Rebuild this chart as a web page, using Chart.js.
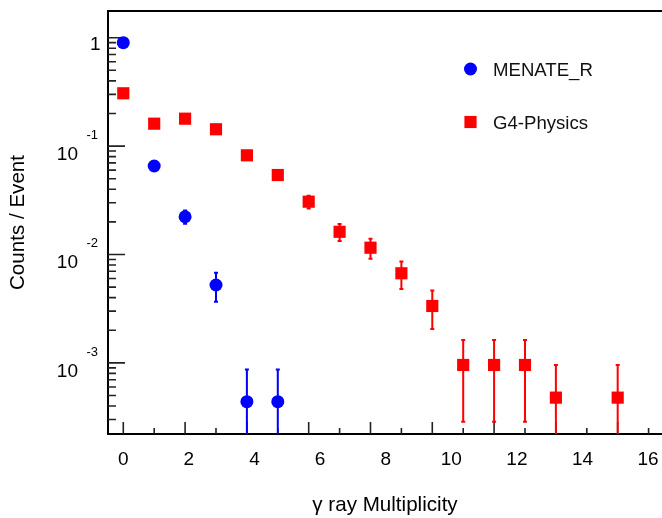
<!DOCTYPE html>
<html>
<head>
<meta charset="utf-8">
<script src="https://cdn.jsdelivr.net/npm/chart.js@4.4.1/dist/chart.umd.min.js"></script>
<style>
    html, body { margin: 0; padding: 0; background: #fff; }
    #wrap { width: 662px; height: 518px; }
</style>
</head>
<body>
<div id="wrap"><canvas id="multChart" width="662" height="518"></canvas></div>
<script>
// Data (gamma-ray multiplicity bins)
const menateBins = [0, 1, 2, 3, 4, 5];
const menateCounts = [0.90, 0.0655, 0.0223, 0.00523, 0.000439, 0.000439];
const menateErrors = [0.015, 0.0035, 0.0031, 0.00156, 0.00043, 0.00043];

const g4Bins = [0, 1, 2, 3, 4, 5, 6, 7, 8, 9, 10, 11, 12, 13, 14, 16];
const g4Counts = [0.307, 0.161, 0.179, 0.143, 0.0822, 0.0541, 0.0307, 0.0162, 0.01155,
    0.00671, 0.00335, 0.000957, 0.000957, 0.000957, 0.000478, 0.000478];
const g4Errors = [0.007, 0.005, 0.0053, 0.0047, 0.0036, 0.0029, 0.0042, 0.0029, 0.0024,
    0.0019, 0.0013, 0.00067, 0.00067, 0.00067, 0.000478, 0.000478];

const xTickLabels = [0, 2, 4, 6, 8, 10, 12, 14, 16];
const yDecades = [-3, -2, -1, 0];

const FONT = '"Liberation Sans", Arial, Helvetica, sans-serif';

function toPoints(xs, ys) {
    return xs.map((x, i) => ({ x: x, y: ys[i] }));
}

function drawAxisTicks(chart) {
    const ctx = chart.ctx;
    const area = chart.chartArea;
    const xs = chart.scales.x;
    const ys = chart.scales.y;
    ctx.save();
    ctx.strokeStyle = '#222';
    ctx.lineWidth = 1.6;
    ctx.beginPath();
    for (let i = 0; i <= Math.floor(xs.max); i++) {
        const px = xs.getPixelForValue(i);
        const len = i % 2 === 0 ? 12 : 6;
        ctx.moveTo(px, area.bottom);
        ctx.lineTo(px, area.bottom - len);
    }
    for (let d = -4; d <= 0; d++) {
        for (let m = 1; m <= 9; m++) {
            const v = m * Math.pow(10, d);
            if (v < ys.min || v > ys.max) continue;
            const py = ys.getPixelForValue(v);
            const len = m === 1 ? 17 : 8;
            ctx.moveTo(area.left, py);
            ctx.lineTo(area.left + len, py);
        }
    }
    ctx.stroke();
    ctx.restore();
}

function drawErrorBars(chart) {
    const ctx = chart.ctx;
    const area = chart.chartArea;
    const xs = chart.scales.x;
    const ys = chart.scales.y;
    ctx.save();
    ctx.beginPath();
    ctx.rect(area.left, area.top, area.right - area.left, area.bottom - area.top);
    ctx.clip();
    chart.data.datasets.forEach(ds => {
        ctx.strokeStyle = ds.backgroundColor;
        ctx.lineWidth = 2;
        ds.data.forEach((p, i) => {
            const err = ds.errors[i];
            const px = xs.getPixelForValue(p.x);
            const yHi = ys.getPixelForValue(p.y + err);
            const lo = p.y - err;
            const yLo = lo > ys.min ? ys.getPixelForValue(lo) : area.bottom + 2;
            ctx.beginPath();
            ctx.moveTo(px, yHi);
            ctx.lineTo(px, yLo);
            ctx.moveTo(px - 2, yHi);
            ctx.lineTo(px + 2, yHi);
            ctx.moveTo(px - 2, yLo);
            ctx.lineTo(px + 2, yLo);
            ctx.stroke();
        });
    });
    ctx.restore();
}

function drawYLabels(chart) {
    const ctx = chart.ctx;
    const ys = chart.scales.y;
    ctx.save();
    ctx.fillStyle = '#000';
    ctx.textBaseline = 'alphabetic';
    yDecades.forEach(e => {
        const py = ys.getPixelForValue(Math.pow(10, e));
        if (e === 0) {
            ctx.font = '19px ' + FONT;
            ctx.textAlign = 'right';
            ctx.fillText('1', 100.5, py + 12.6);
        } else {
            ctx.font = '19px ' + FONT;
            ctx.textAlign = 'right';
            ctx.fillText('10', 78, py + 14);
            ctx.font = '13px ' + FONT;
            ctx.textAlign = 'left';
            ctx.fillText(String(e), 86.5, py - 7);
        }
    });
    ctx.restore();
}

function drawFrameTop(chart) {
    const ctx = chart.ctx;
    const area = chart.chartArea;
    ctx.save();
    ctx.strokeStyle = '#000';
    ctx.lineWidth = 2;
    ctx.beginPath();
    ctx.moveTo(area.left - 1, area.top);
    ctx.lineTo(area.right, area.top);
    ctx.stroke();
    ctx.restore();
}

function drawLegend(chart) {
    const ctx = chart.ctx;
    const rows = [69, 122];
    ctx.save();
    chart.data.datasets.forEach((ds, i) => {
        const y = rows[i];
        ctx.fillStyle = ds.backgroundColor;
        Chart.helpers.drawPoint(ctx, {
            pointStyle: ds.pointStyle,
            radius: ds.legendRadius,
            rotation: 0,
            borderWidth: 0
        }, 470.5, y);
        ctx.fillStyle = '#111';
        ctx.font = '18.6px ' + FONT;
        ctx.textAlign = 'left';
        ctx.textBaseline = 'alphabetic';
        ctx.fillText(ds.label, 493, y + 6.5);
    });
    ctx.restore();
}

const rootStyle = {
    id: 'rootStyle',
    beforeDatasetsDraw(chart) {
        drawAxisTicks(chart);
        drawErrorBars(chart);
    },
    afterDraw(chart) {
        drawFrameTop(chart);
        drawYLabels(chart);
        drawLegend(chart);
    }
};

const ctx = document.getElementById('multChart').getContext('2d');

new Chart(ctx, {
    type: 'scatter',
    data: {
        datasets: [
            {
                label: 'MENATE_R',
                data: toPoints(menateBins, menateCounts),
                errors: menateErrors,
                backgroundColor: '#0000ff',
                borderColor: '#0000ff',
                pointStyle: 'circle',
                pointRadius: 6.5,
                legendRadius: 6.5,
                borderWidth: 0,
                xAxisID: 'x',
                yAxisID: 'y'
            },
            {
                label: 'G4-Physics',
                data: toPoints(g4Bins, g4Counts),
                errors: g4Errors,
                backgroundColor: '#ff0000',
                borderColor: '#ff0000',
                pointStyle: 'rect',
                pointRadius: 8.6,
                legendRadius: 8.6,
                borderWidth: 0,
                xAxisID: 'x',
                yAxisID: 'y'
            }
        ]
    },
    options: {
        responsive: false,
        animation: false,
        events: [],
        layout: { autoPadding: false, padding: { top: 11, right: 0, bottom: 0, left: 0 } },
        plugins: {
            legend: { display: false },
            tooltip: { enabled: false }
        },
        scales: {
            x: {
                type: 'linear',
                display: false,
                min: -0.495,
                max: 17.434
            },
            xl: {
                type: 'linear',
                position: 'bottom',
                min: -0.466,
                max: 16.424,
                afterFit: scale => {
                    scale.height = 84;
                    scale.paddingLeft = 0;
                    scale.paddingRight = 0;
                },
                afterBuildTicks: scale => {
                    scale.ticks = xTickLabels.map(v => ({ value: v }));
                },
                grid: { display: false, drawTicks: false },
                border: { display: true, color: '#000', width: 2 },
                ticks: {
                    padding: 14,
                    color: '#000',
                    maxRotation: 0,
                    autoSkip: false,
                    font: { family: FONT, size: 19 }
                },
                title: {
                    display: true,
                    text: 'γ ray Multiplicity',
                    color: '#000',
                    padding: { top: 0, bottom: 0 },
                    font: { family: FONT, size: 20.6 }
                }
            },
            y: {
                type: 'logarithmic',
                position: 'left',
                min: 2.208e-4,
                max: 1.763,
                afterFit: scale => {
                    scale.width = 108;
                    scale.paddingTop = 0;
                    scale.paddingBottom = 0;
                },
                grid: { display: false, drawTicks: false },
                border: { display: true, color: '#000', width: 2 },
                ticks: { display: false },
                title: {
                    display: true,
                    text: 'Counts / Event',
                    color: '#000',
                    padding: { top: 6, bottom: 0 },
                    font: { family: FONT, size: 20.6 }
                }
            }
        }
    },
    plugins: [rootStyle]
});
</script>
</body>
</html>
